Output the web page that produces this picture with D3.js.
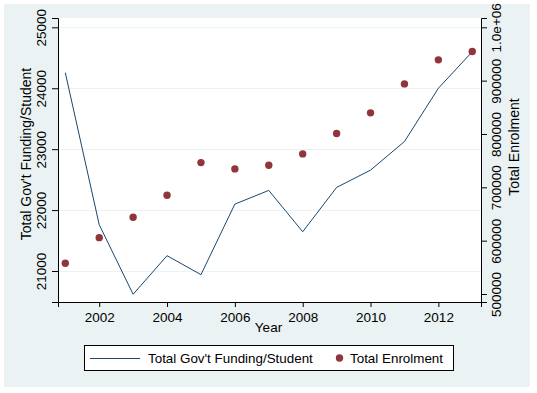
<!DOCTYPE html>
<html>
<head>
<meta charset="utf-8">
<script src="https://cdn.jsdelivr.net/npm/d3@7"></script>
<style>
body { margin: 0; background: #fff; }
text { font-family: Arial, "Liberation Sans", sans-serif; }
</style>
</head>
<body>
<script>
var w = 537;
var h = 393;

// data
var years = [2001, 2002, 2003, 2004, 2005, 2006, 2007, 2008, 2009, 2010, 2011, 2012, 2013];
var funding = [24256, 21760, 20618, 21251, 20940, 22098, 22323, 21644, 22372, 22656, 23125, 24000, 24600];
var enrolment = [557600, 605600, 643900, 685200, 746300, 734500, 741400, 762700, 800800, 839600, 893900, 939000, 954600];
var xTicks = [2002, 2004, 2006, 2008, 2010, 2012];
var leftTicks = [21000, 22000, 23000, 24000, 25000];
var rightTicks = [500000, 600000, 700000, 800000, 900000, 1000000];

var colorBg = "#eaf2f3";
var colorLine = "#1a476f";
var colorDot = "#90353b";

var plot = {left: 58, right: 481, top: 18, bottom: 302};

var x = d3.scaleLinear().domain([2000.785, 2013.257]).range([plot.left, plot.right]);
var yL = d3.scaleLinear().domain([20491, 25153]).range([plot.bottom, plot.top]);
var yR = d3.scaleLinear().domain([485000, 1017435]).range([plot.bottom, plot.top]);

var svg = d3.select("body").append("svg")
	.attr("width", w)
	.attr("height", h);

// outer graph region
svg.append("rect")
	.attr("x", 4).attr("y", 4)
	.attr("width", 526).attr("height", 383)
	.attr("fill", colorBg);

// plot region
svg.append("rect")
	.attr("x", plot.left).attr("y", plot.top)
	.attr("width", plot.right - plot.left).attr("height", plot.bottom - plot.top)
	.attr("fill", "#fff");

// grid lines at left ticks
svg.selectAll("line.grid")
	.data(leftTicks)
	.enter()
	.append("line")
	.attr("class", "grid")
	.attr("x1", plot.left).attr("x2", plot.right)
	.attr("y1", function(d) { return Math.round(yL(d)) + 0.5; })
	.attr("y2", function(d) { return Math.round(yL(d)) + 0.5; })
	.style("stroke", colorBg)
	.style("stroke-width", 1);

// axes
var xAxis = d3.axisBottom(x).tickValues(xTicks).tickFormat(d3.format("d")).tickSizeOuter(0).tickSize(5).tickPadding(4);
var gx = svg.append("g").attr("transform", "translate(0," + plot.bottom + ")").call(xAxis);

var leftAxis = d3.axisLeft(yL).tickValues(leftTicks).tickFormat(d3.format("d")).tickSizeOuter(0).tickSize(6);
var gl = svg.append("g").attr("transform", "translate(" + plot.left + ",0)").call(leftAxis);

var rightAxis = d3.axisRight(yR).tickValues(rightTicks)
	.tickFormat(function(d) { return d >= 1000000 ? "1.0e+06" : d3.format("d")(d); })
	.tickSizeOuter(0).tickSize(6);
var gr = svg.append("g").attr("transform", "translate(" + plot.right + ",0)").call(rightAxis);

[gx, gl, gr].forEach(function(g) {
	g.select(".domain").attr("stroke", "#000");
	g.selectAll(".tick line").attr("stroke", "#000");
	g.selectAll("text").attr("fill", "#000").attr("font-size", "13.5px").attr("font-family", "Arial, 'Liberation Sans', sans-serif");
});
gx.selectAll("text").attr("dy", null).attr("y", 20);

// rotated tick labels on the y axes
gl.selectAll(".tick text")
	.attr("x", null).attr("dy", null)
	.attr("text-anchor", "middle")
	.attr("transform", "translate(-12.5,0) rotate(-90)")
	.attr("y", 0);
gr.selectAll(".tick text")
	.attr("x", null).attr("dy", null)
	.attr("text-anchor", "middle")
	.attr("transform", "translate(19.5,0) rotate(-90)")
	.attr("y", 0);

// funding line
var line = d3.line()
	.x(function(d, i) { return x(years[i]); })
	.y(function(d) { return yL(d); });

svg.append("path")
	.datum(funding)
	.attr("d", line)
	.attr("fill", "none")
	.style("stroke", colorLine)
	.style("stroke-width", 1);

// enrolment dots
svg.selectAll("circle.enr")
	.data(enrolment)
	.enter()
	.append("circle")
	.attr("class", "enr")
	.attr("cx", function(d, i) { return x(years[i]); })
	.attr("cy", function(d) { return yR(d); })
	.attr("r", 3.7)
	.attr("fill", colorDot);

// axis titles
svg.append("text")
	.text("Year")
	.attr("x", 268.5).attr("y", 332)
	.attr("text-anchor", "middle")
	.attr("font-size", "13.5px");

svg.append("text")
	.text("Total Gov't Funding/Student")
	.attr("transform", "translate(31,154) rotate(-90)")
	.attr("text-anchor", "middle")
	.attr("font-size", "14px");

svg.append("text")
	.text("Total Enrolment")
	.attr("transform", "translate(519,147) rotate(-90)")
	.attr("text-anchor", "middle")
	.attr("font-size", "14px");

// legend
var legend = svg.append("g");
legend.append("rect")
	.attr("x", 84.5).attr("y", 345.5)
	.attr("width", 369).attr("height", 25)
	.attr("fill", "#fff")
	.style("stroke", "#000")
	.style("stroke-width", 1);
legend.append("line")
	.attr("x1", 90).attr("x2", 140)
	.attr("y1", 358.5).attr("y2", 358.5)
	.style("stroke", colorLine);
legend.append("text")
	.text("Total Gov't Funding/Student")
	.attr("x", 148).attr("y", 363)
	.attr("font-size", "13.4px");
legend.append("circle")
	.attr("cx", 339.5).attr("cy", 358)
	.attr("r", 3.7)
	.attr("fill", colorDot);
legend.append("text")
	.text("Total Enrolment")
	.attr("x", 350).attr("y", 363)
	.attr("font-size", "13.4px");
</script>
</body>
</html>
